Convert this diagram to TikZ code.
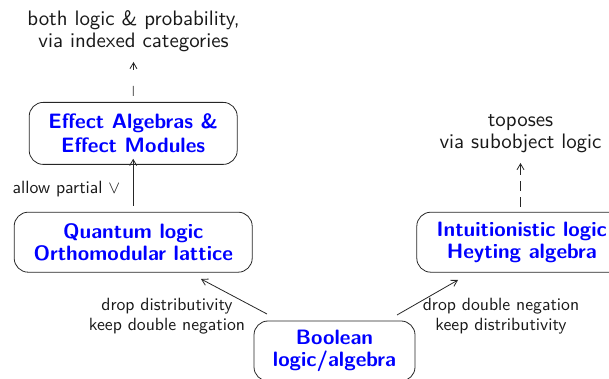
\documentclass[tikz,border=0pt]{standalone}
\usepackage{amsmath}
\usepackage{amssymb}
\usetikzlibrary{positioning,arrows.meta,calc}
\renewcommand{\familydefault}{\sfdefault}

\begin{document}
\begin{tikzpicture}[
    x=1pt, y=1pt,
    logic/.style={draw, black!85, line width=0.8pt, rounded corners=14pt, text=blue,
                  align=center, font=\fontsize{20.8}{22}\selectfont\bfseries,
                  inner sep=0pt, minimum height=60pt},
    note/.style={align=center, scale=2.09, text=black!90,
                 font=\fontsize{10}{10.6}\selectfont},
    lbl/.style={align=center, scale=1.77, text=black!90,
                font=\fontsize{10}{11.3}\selectfont},
    op/.style={->, >={Straight Barb[length=6pt,width=7pt]}, black!85, line width=0.8pt},
  ]
  \useasboundingbox (0,0) rectangle (609,379);

  % --- boxes ---
  \node[logic, minimum width=161pt] (bool) at (334.5,28) {Boolean\\logic/algebra};
  \node[logic, minimum width=238pt, above left=48pt and 1pt of bool] (quant)
    {Quantum logic\\Orthomodular lattice};
  \node[logic, minimum width=208pt, minimum height=62pt, above=47pt of quant] (effect)
    {Effect Algebras \&\\[2pt]Effect Modules};
  \node[logic, minimum width=210pt, above right=48pt and 1pt of bool] (intui)
    {Intuitionistic logic\\Heyting algebra};

  % --- where it leads ---
  \node[note] (both) at (133.5,348) {both logic \& probability,\\via indexed categories};
  \node[note] (topos) at (520.5,245) {toposes\\via subobject logic};

  % --- free ends of the arrows ---
  \coordinate (quantup) at ($(quant.north)+(0,6)$);
  \coordinate (effectin) at ($(effect.south)+(0,6)$);
  \coordinate (effectup) at ($(effect.north)+(0,6)$);
  \coordinate (bothin) at (133.5,317);
  \coordinate (intuiup) at (520.5,172);
  \coordinate (toposin) at (520.5,216);
  \coordinate (boolleft) at (267,65);
  \coordinate (quantin) at (201,100);
  \coordinate (boolright) at (397,64);
  \coordinate (intuiin) at (458,99);

  % --- arrows ---
  \draw[op] (boolleft) -- (quantin);
  \draw[op] (boolright) -- (intuiin);
  \draw[op] (quantup) -- (effectin);
  \draw[op, dash pattern=on 10pt off 16pt] (effectup) -- (bothin);
  \draw[op, dash pattern=on 10pt off 6pt] (intuiup) -- (toposin);

  % --- labels ---
  \node[lbl] (partial) at (66.5,190) {allow partial $\vee$};
  \node[lbl] (dropleft) at (167,63) {drop distributivity\\keep double negation};
  \node[lbl] (dropright) at (501,63) {drop double negation\\keep distributivity};
\end{tikzpicture}
\end{document}
